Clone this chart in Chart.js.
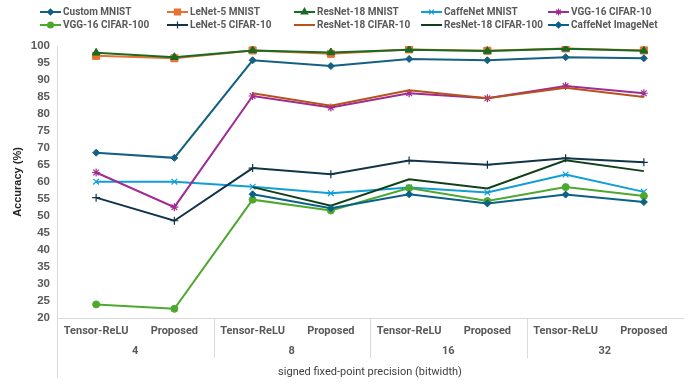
<!DOCTYPE html>
<html>
<head>
<meta charset="utf-8">
<script src="https://cdn.jsdelivr.net/npm/chart.js@4"></script>
<style>
  body { margin: 0; background: #fff; }
  #wrap { position: relative; width: 689px; height: 386px; }
  #legend {
    position: absolute; left: 40px; top: 5px;
    display: grid; grid-template-columns: repeat(5, 127px); grid-auto-rows: 13px;
    font: bold 10px Roboto, "Liberation Sans", Arial, sans-serif; color: #595959;
  }
  .item { display: flex; align-items: center; white-space: nowrap; }
  .item canvas { margin-right: 2px; }
</style>
</head>
<body>
<div id="wrap">
  <canvas id="accChart" width="689" height="386"></canvas>
  <div id="legend"></div>
</div>
<script>
// categories
const methods = ['Tensor-ReLU', 'Proposed', 'Tensor-ReLU', 'Proposed', 'Tensor-ReLU', 'Proposed', 'Tensor-ReLU', 'Proposed'];
const bitwidths = ['4', '8', '16', '32'];

// series values (accuracy %)
const customMnist      = [68.6, 67.1, 95.8, 94.1, 96.2, 95.8, 96.7, 96.4];
const lenet5Mnist      = [97.1, 96.4, 98.7, 97.7, 99.0, 98.6, 99.3, 98.7];
const resnet18Mnist    = [98.0, 96.7, 98.7, 98.1, 98.9, 98.5, 99.2, 98.6];
const caffenetMnist    = [60.1, 60.1, 58.6, 56.7, 58.4, 56.9, 62.2, 57.1];
const vgg16Cifar10     = [62.8, 52.6, 85.3, 81.9, 86.1, 84.6, 88.2, 86.1];
const vgg16Cifar100    = [24.0, 22.7, 54.8, 51.6, 58.2, 54.4, 58.5, 55.9];
const lenet5Cifar10    = [55.4, 48.6, 64.1, 62.3, 66.3, 65.1, 67.0, 65.8];
const resnet18Cifar10  = [null, null, 86.1, 82.4, 87.0, 84.6, 87.7, 85.0];
const resnet18Cifar100 = [null, null, 58.5, 53.0, 60.8, 58.1, 66.4, 63.2];
const caffenetImagenet = [null, null, 56.4, 52.3, 56.4, 53.7, 56.3, 54.1];

// y ticks
const yMin = 20;
const yMax = 100;
const yStep = 5;

const series = [
    { label: 'Custom MNIST',       data: customMnist,      color: '#156082', style: 'rectRot',  r: 3.5 },
    { label: 'LeNet-5 MNIST',      data: lenet5Mnist,      color: '#E97132', style: 'rect',     r: 5 },
    { label: 'ResNet-18 MNIST',    data: resnet18Mnist,    color: '#196B24', style: 'triangle', r: 4.5 },
    { label: 'CaffeNet MNIST',     data: caffenetMnist,    color: '#0F9ED5', style: 'crossRot', r: 4 },
    { label: 'VGG-16 CIFAR-10',    data: vgg16Cifar10,     color: '#A02B93', style: 'star',     r: 4 },
    { label: 'VGG-16 CIFAR-100',   data: vgg16Cifar100,    color: '#4EA72E', style: 'circle',   r: 3.5 },
    { label: 'LeNet-5 CIFAR-10',   data: lenet5Cifar10,    color: '#12344A', style: 'cross',    r: 4 },
    { label: 'ResNet-18 CIFAR-10', data: resnet18Cifar10,  color: '#B5521E', style: 'circle',   r: 0 },
    { label: 'ResNet-18 CIFAR-100',data: resnet18Cifar100, color: '#10401A', style: 'circle',   r: 0 },
    { label: 'CaffeNet ImageNet',  data: caffenetImagenet, color: '#0A6186', style: 'rectRot',  r: 3.5 }
];

const tickColor = '#595959';
const axisColor = '#D9D9D9';
const labelFont = 'Roboto, "Liberation Sans", Arial, sans-serif';

// separators below the plot, between bitwidth groups
const groupLines = {
    id: 'groupLines',
    afterDraw(chart) {
        const ctx = chart.ctx;
        const x = chart.scales.x;
        const area = chart.chartArea;
        ctx.save();
        ctx.strokeStyle = axisColor;
        ctx.lineWidth = 1;
        ctx.beginPath();
        for (let i = 1; i < methods.length - 1; i += 2) {
            const px = Math.round((x.getPixelForValue(i) + x.getPixelForValue(i + 1)) / 2) + 0.5;
            ctx.moveTo(px, area.bottom);
            ctx.lineTo(px, area.bottom + 40);
        }
        ctx.moveTo(Math.round(area.left) + 0.5, area.bottom);
        ctx.lineTo(Math.round(area.left) + 0.5, area.bottom + 60);
        ctx.stroke();
        ctx.restore();
    }
};

const ctx = document.getElementById('accChart').getContext('2d');
const accChart = new Chart(ctx, {
    type: 'line',
    data: {
        labels: methods,
        datasets: series.map((s, i) => ({
            label: s.label,
            data: s.data,
            borderColor: s.color,
            backgroundColor: s.color,
            borderWidth: 2,
            pointStyle: s.style,
            pointRadius: s.r,
            pointBorderWidth: (s.style === 'cross' || s.style === 'crossRot' || s.style === 'star') ? 1.2 : 1,
            pointBorderColor: s.color,
            pointBackgroundColor: s.color,
            tension: 0,
            spanGaps: false,
            order: series.length - i
        }))
    },
    options: {
        responsive: false,
        animation: false,
        layout: { padding: { top: 46, right: 2, left: 0, bottom: 0 } },
        plugins: {
            legend: { display: false },
            tooltip: { enabled: false }
        },
        scales: {
            x: {
                type: 'category',
                offset: true,
                weight: 0,
                grid: { display: false, drawTicks: false },
                border: { display: true, color: axisColor, width: 1 },
                ticks: {
                    autoSkip: false, maxRotation: 0, padding: 7,
                    color: tickColor,
                    font: { family: labelFont, size: 11, weight: 'bold' }
                },
                afterFit(axis) { axis.height = 24; }
            },
            x2: {
                type: 'category',
                labels: bitwidths,
                offset: true,
                position: 'bottom',
                weight: 1,
                grid: { display: false, drawTicks: false },
                border: { display: false },
                ticks: {
                    autoSkip: false, maxRotation: 0, padding: 3,
                    color: tickColor,
                    font: { family: labelFont, size: 11, weight: 'bold' }
                },
                title: {
                    display: true,
                    text: 'signed fixed-point precision (bitwidth)',
                    color: '#404040',
                    font: { family: labelFont, size: 11 },
                    padding: { top: 0, bottom: 7 }
                },
                afterFit(axis) { axis.height = 44; }
            },
            y: {
                min: yMin,
                max: yMax,
                grid: { display: false, drawTicks: false },
                border: { display: true, color: axisColor, width: 1 },
                ticks: {
                    stepSize: yStep, padding: 7,
                    color: tickColor,
                    font: { family: '"Liberation Sans", Arial, sans-serif', size: 11.5, weight: 'bold' }
                },
                title: {
                    display: true,
                    text: 'Accuracy (%)',
                    color: '#262626',
                    font: { family: '"Liberation Sans", Arial, sans-serif', size: 11, weight: 'bold' },
                    padding: { top: 11, bottom: 0 }
                },
                afterFit(axis) { axis.width = 57; }
            }
        }
    },
    plugins: [groupLines]
});

// legend, laid out in fixed columns like the original
const legendBox = document.getElementById('legend');
series.forEach(s => {
    const item = document.createElement('div');
    item.className = 'item';
    const c = document.createElement('canvas');
    c.width = 21; c.height = 10;
    const g = c.getContext('2d');
    g.strokeStyle = s.color;
    g.lineWidth = 2;
    g.beginPath();
    g.moveTo(0, 5); g.lineTo(21, 5);
    g.stroke();
    if (s.r > 0) {
        g.fillStyle = s.color;
        g.lineWidth = 1.2;
        Chart.helpers.drawPoint(g, { pointStyle: s.style, radius: s.r * 0.85, borderWidth: 1.2, rotation: 0 }, 10.5, 5);
    }
    item.appendChild(c);
    const t = document.createElement('span');
    t.textContent = s.label;
    item.appendChild(t);
    legendBox.appendChild(item);
});
</script>
</body>
</html>
